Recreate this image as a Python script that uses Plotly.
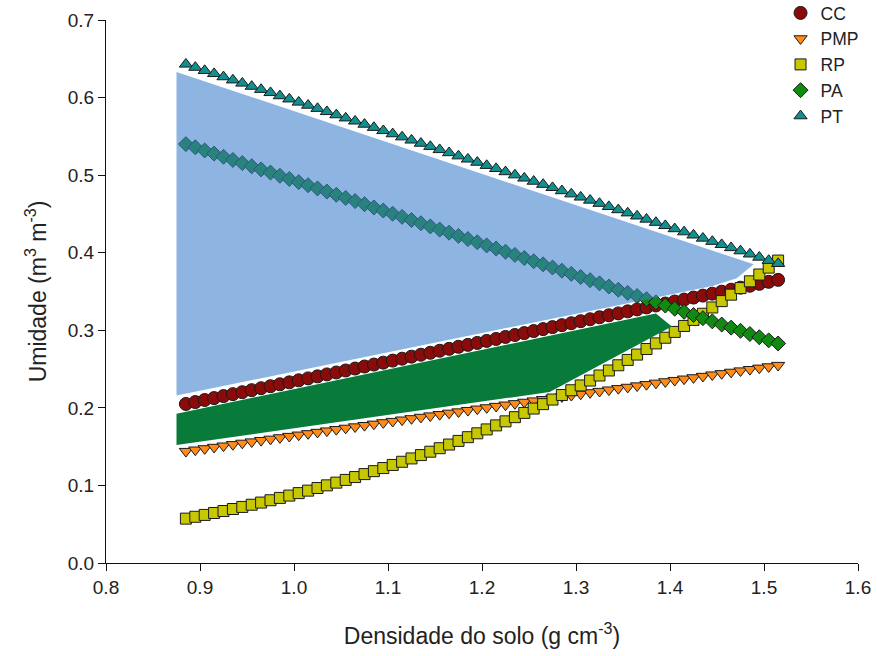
import plotly.graph_objects as go

# Soil bulk density (g cm-3)
DENSIDADE = [0.885, 0.895, 0.905, 0.915, 0.925, 0.935, 0.945, 0.955, 0.965, 0.975,
             0.985, 0.995, 1.005, 1.015, 1.025, 1.035, 1.045, 1.055, 1.065, 1.075,
             1.085, 1.095, 1.105, 1.115, 1.125, 1.135, 1.145, 1.155, 1.165, 1.175,
             1.185, 1.195, 1.205, 1.215, 1.225, 1.235, 1.245, 1.255, 1.265, 1.275,
             1.285, 1.295, 1.305, 1.315, 1.325, 1.335, 1.345, 1.355, 1.365, 1.375,
             1.385, 1.395, 1.405, 1.415, 1.425, 1.435, 1.445, 1.455, 1.465, 1.475,
             1.485, 1.495, 1.505, 1.515]

CC = [0.205, 0.2075, 0.2101, 0.2126, 0.2152, 0.2177, 0.2202, 0.2228, 0.2253, 0.2279,
      0.2304, 0.2329, 0.2355, 0.238, 0.2406, 0.2431, 0.2456, 0.2482, 0.2507, 0.2533,
      0.2558, 0.2583, 0.2609, 0.2634, 0.266, 0.2685, 0.271, 0.2736, 0.2761, 0.2787,
      0.2812, 0.2837, 0.2863, 0.2888, 0.2914, 0.2939, 0.2964, 0.299, 0.3015, 0.3041,
      0.3066, 0.3091, 0.3117, 0.3142, 0.3168, 0.3193, 0.3218, 0.3244, 0.3269, 0.3295,
      0.332, 0.3345, 0.3371, 0.3396, 0.3422, 0.3447, 0.3472, 0.3498, 0.3523, 0.3549,
      0.3574, 0.3599, 0.3625, 0.365]

PMP = [0.144, 0.1458, 0.1475, 0.1493, 0.151, 0.1528, 0.1546, 0.1563, 0.1581, 0.1598,
       0.1616, 0.1634, 0.1651, 0.1669, 0.1686, 0.1704, 0.1722, 0.1739, 0.1757, 0.1774,
       0.1792, 0.181, 0.1827, 0.1845, 0.1862, 0.188, 0.1898, 0.1915, 0.1933, 0.195,
       0.1968, 0.1986, 0.2003, 0.2021, 0.2038, 0.2056, 0.2074, 0.2091, 0.2109, 0.2126,
       0.2144, 0.2162, 0.2179, 0.2197, 0.2214, 0.2232, 0.225, 0.2267, 0.2285, 0.2302,
       0.232, 0.2338, 0.2355, 0.2373, 0.239, 0.2408, 0.2426, 0.2443, 0.2461, 0.2478,
       0.2496, 0.2514, 0.2531, 0.2549]

RP = [0.0572, 0.0596, 0.062, 0.0645, 0.067, 0.0696, 0.0723, 0.0751, 0.0779, 0.0809,
      0.0839, 0.0869, 0.0901, 0.0933, 0.0967, 0.1001, 0.1036, 0.1071, 0.1108, 0.1146,
      0.1184, 0.1224, 0.1264, 0.1305, 0.1348, 0.1391, 0.1435, 0.148, 0.1527, 0.1574,
      0.1622, 0.1672, 0.1722, 0.1774, 0.1826, 0.188, 0.1935, 0.1991, 0.2048, 0.2107,
      0.2166, 0.2227, 0.2289, 0.2352, 0.2417, 0.2482, 0.2549, 0.2618, 0.2687, 0.2759,
      0.2831, 0.2904, 0.2979, 0.3056, 0.3134, 0.3213, 0.3294, 0.3376, 0.3459, 0.3544,
      0.3631, 0.3719, 0.3808, 0.3899]

PA = [0.54, 0.5359, 0.5318, 0.5278, 0.5237, 0.5196, 0.5155, 0.5114, 0.5074, 0.5033,
      0.4992, 0.4951, 0.491, 0.487, 0.4829, 0.4788, 0.4747, 0.4706, 0.4666, 0.4625,
      0.4584, 0.4543, 0.4502, 0.4462, 0.4421, 0.438, 0.4339, 0.4298, 0.4258, 0.4217,
      0.4176, 0.4135, 0.4094, 0.4054, 0.4013, 0.3972, 0.3931, 0.389, 0.385, 0.3809,
      0.3768, 0.3727, 0.3686, 0.3646, 0.3605, 0.3564, 0.3523, 0.3482, 0.3442, 0.3401,
      0.336, 0.3319, 0.3278, 0.3238, 0.3197, 0.3156, 0.3115, 0.3074, 0.3034, 0.2993,
      0.2952, 0.2911, 0.287, 0.283]

PT = [0.643, 0.6389, 0.6348, 0.6308, 0.6267, 0.6226, 0.6185, 0.6144, 0.6104, 0.6063,
      0.6022, 0.5981, 0.594, 0.59, 0.5859, 0.5818, 0.5777, 0.5736, 0.5696, 0.5655,
      0.5614, 0.5573, 0.5532, 0.5492, 0.5451, 0.541, 0.5369, 0.5328, 0.5288, 0.5247,
      0.5206, 0.5165, 0.5124, 0.5084, 0.5043, 0.5002, 0.4961, 0.492, 0.488, 0.4839,
      0.4798, 0.4757, 0.4716, 0.4676, 0.4635, 0.4594, 0.4553, 0.4512, 0.4472, 0.4431,
      0.439, 0.4349, 0.4308, 0.4268, 0.4227, 0.4186, 0.4145, 0.4104, 0.4064, 0.4023,
      0.3982, 0.3941, 0.39, 0.386]

# Shaded areas (polygon outlines)
AREA_AZUL_X = [0.875, 1.445, 1.471, 1.481, 1.489, 0.875, 0.875]
AREA_AZUL_Y = [0.216, 0.357, 0.367, 0.377, 0.385, 0.633, 0.216]
AREA_VERDE_X = [0.875, 1.385, 1.402, 1.272, 0.875, 0.875]
AREA_VERDE_Y = [0.1925, 0.3215, 0.305, 0.2205, 0.152, 0.1925]

FONT = "Liberation Sans, Arial, sans-serif"
EDGE = "#1a1a1a"

fig = go.Figure()

def serie(name, y, symbol, color, size):
    return go.Scatter(x=DENSIDADE, y=y, mode="markers", name=name,
                      marker=dict(symbol=symbol, color=color, size=size,
                                  line=dict(color=EDGE, width=1)))

fig.add_trace(serie("CC", CC, "circle", "#8B0A0A", 13))
fig.add_trace(serie("PMP", PMP, "triangle-down", "#FF8C1A", 11.5))
fig.add_trace(serie("RP", RP, "square", "#C8C800", 11))
fig.add_trace(serie("PA", PA, "diamond", "#108A10", 11.5))

fig.add_trace(go.Scatter(x=AREA_AZUL_X, y=AREA_AZUL_Y, mode="lines", fill="toself",
                         fillcolor="rgba(60,125,205,0.58)", line=dict(width=0),
                         showlegend=False, hoverinfo="skip"))
fig.add_trace(go.Scatter(x=AREA_VERDE_X, y=AREA_VERDE_Y, mode="lines", fill="toself",
                         fillcolor="rgb(8,122,58)", line=dict(width=0),
                         showlegend=False, hoverinfo="skip"))

fig.add_trace(serie("PT", PT, "triangle-up", "#138F8F", 11.5))

axis_common = dict(showline=True, linecolor="#111", linewidth=1.3, ticks="outside",
                   ticklen=7, tickcolor="#111", tickwidth=1.3, showgrid=False,
                   zeroline=False, tickfont=dict(family=FONT, size=19, color="#222"),
                   tickformat=".1f", dtick=0.1)

fig.update_layout(
    width=877, height=656,
    margin=dict(l=106, r=19, t=20, b=93, autoexpand=False),
    paper_bgcolor="white", plot_bgcolor="white",
    font=dict(family=FONT, color="#222"),
    xaxis=dict(range=[0.8, 1.6], tick0=0.8,
               title=dict(text="Densidade do solo (g cm<sup>-3</sup>)",
                          font=dict(family=FONT, size=23, color="#222"), standoff=30),
               **axis_common),
    yaxis=dict(range=[0, 0.7], tick0=0,
               title=dict(text="Umidade (m<sup>3</sup> m<sup>-3</sup>)",
                          font=dict(family=FONT, size=23, color="#222"), standoff=14),
               **axis_common),
    legend=dict(x=0.897, y=1.046, xanchor="left", yanchor="top",
                font=dict(family=FONT, size=17.5, color="#222"),
                bgcolor="rgba(0,0,0,0)", itemwidth=30, tracegroupgap=0),
)

fig.write_html("out.html")
